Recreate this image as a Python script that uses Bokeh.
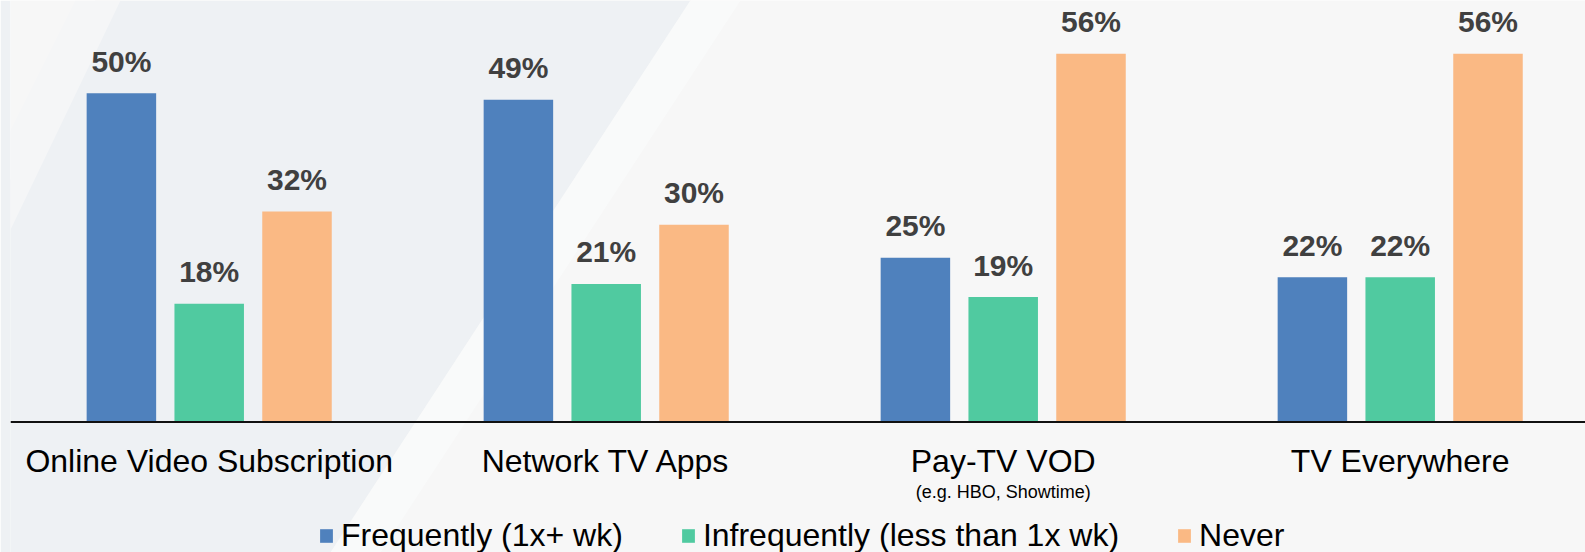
from bokeh.plotting import figure
from bokeh.models import ColumnDataSource, Range1d, Span, Legend, LegendItem
from bokeh.transform import dodge
from bokeh.core.properties import value
from bokeh.embed import file_html
from bokeh.resources import INLINE

# ---- data ----
categories = ["Online Video Subscription", "Network TV Apps", "Pay-TV VOD", "TV Everywhere"]
sub_labels = ["", "", "(e.g. HBO, Showtime)", ""]
series_names = ["Frequently (1x+ wk)", "Infrequently (less than 1x wk)", "Never"]
frequently = [50, 49, 25, 22]
infrequently = [18, 21, 19, 22]
never = [32, 30, 56, 56]

colors = ["#4F81BD", "#50CAA0", "#FAB984"]

# ---- geometry (layout) ----
W, H = 1585, 552
BL = 10                # left border
GROUP_PX = 397.0       # px per group
PX_PER_PCT = 6.575
BASE_PAGE_Y = 421.5
FIG_TOP = 0
x0 = -(208.7 - BL) / GROUP_PX
x_range = Range1d(x0, x0 + (W - BL) / GROUP_PX)
y_range = Range1d(-(FIG_TOP + H - BASE_PAGE_Y) / PX_PER_PCT, (BASE_PAGE_Y - FIG_TOP) / PX_PER_PCT)

def px(pagex):
    return (pagex - BL) / GROUP_PX + x0

def py(pagey):
    return (BASE_PAGE_Y - pagey) / PX_PER_PCT

p = figure(width=W, height=H, x_range=x_range, y_range=y_range,
           output_backend="svg", toolbar_location=None,
           x_axis_type=None, y_axis_type=None,
           min_border_left=BL, min_border_right=0, min_border_top=0, min_border_bottom=0)
p.grid.visible = False
p.outline_line_color = None
p.background_fill_color = "#F7F7F7"
p.border_fill_color = "#EEF1F4"

# background decoration
p.patch([px(0), px(95), px(690), px(330), px(0)],
        [py(200), py(0), py(0), py(552), py(552)],
        fill_color="#EEF1F4", line_color=None)
p.patch([px(690), px(740), px(380), px(330)],
        [py(0), py(0), py(552), py(552)],
        fill_color="#F9FAFA", line_color=None)
p.patch([px(0), px(75), px(120), px(0)],
        [py(150), py(0), py(0), py(250)],
        fill_color="#F5F6F7", line_color=None)

src = ColumnDataSource(dict(
    g=list(range(len(categories))),
    cat=categories, sub=sub_labels,
    f=frequently, i=infrequently, n=never,
    fl=[f"{v}%" for v in frequently],
    il=[f"{v}%" for v in infrequently],
    nl=[f"{v}%" for v in never],
))

STEP = 87.8 / GROUP_PX
BW = 69.5 / GROUP_PX
renderers = []
for off, col, lab, c in [(-STEP, "f", "fl", colors[0]), (0, "i", "il", colors[1]), (STEP, "n", "nl", colors[2])]:
    r = p.vbar(x=dodge("g", off), top=col, width=BW, source=src, fill_color=c, line_color=None)
    renderers.append(r)
    p.text(x=dodge("g", off), y=col, text=lab, source=src,
           text_align="center", text_baseline="alphabetic", y_offset=-32,
           text_font=value("Liberation Sans"), text_font_style="bold",
           text_font_size="30px", text_color="#404040")

p.add_layout(Span(location=0, dimension="width", line_color="#111111", line_width=2))

p.text(x="g", y=0, text="cat", source=src, text_align="center", text_baseline="alphabetic",
       y_offset=39, text_font=value("Liberation Sans"), text_font_size="32px", text_color="#000000")
p.text(x="g", y=0, text="sub", source=src, text_align="center", text_baseline="alphabetic",
       y_offset=70, text_font=value("Liberation Sans"), text_font_size="18px", text_color="#000000")

legend = Legend(items=[LegendItem(label=n, renderers=[r]) for n, r in zip(series_names, renderers)],
                orientation="horizontal", location=(308, -2),
                glyph_width=16, glyph_height=17, label_standoff=7, spacing=57,
                padding=0, margin=0, border_line_color=None, background_fill_alpha=0,
                label_text_font="Liberation Sans", label_text_font_size="32px",
                label_text_color="#000000")
p.add_layout(legend, "center")

open("out.html", "w").write(file_html(p, INLINE))
